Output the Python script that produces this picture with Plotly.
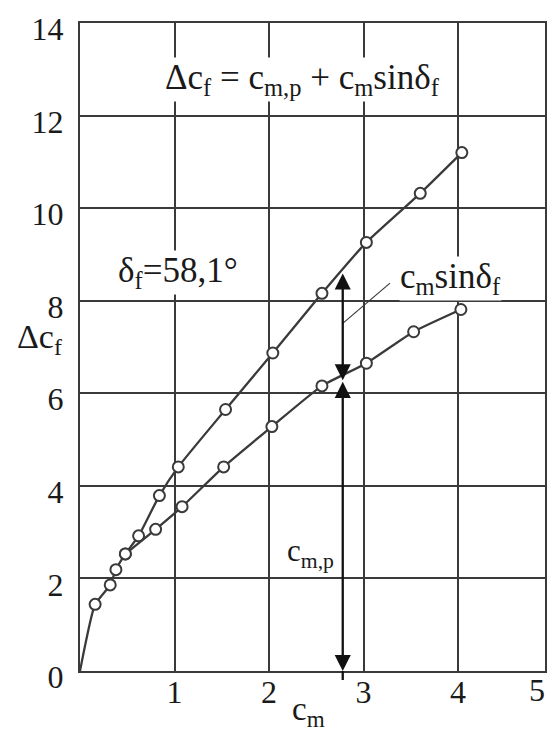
import plotly.graph_objects as go

# ---- data ----
upper_cm = [0, 0.16, 0.32, 0.38, 0.48, 0.62, 0.84, 1.04, 1.54, 2.04, 2.56, 3.03, 3.60, 4.04]
upper_dcf = [0, 1.44, 1.86, 2.19, 2.53, 2.92, 3.79, 4.41, 5.65, 6.87, 8.16, 9.26, 10.32, 11.20]
upper_marker = [False] + [True] * 13

lower_cm = [0.48, 0.80, 1.08, 1.52, 2.03, 2.56, 3.03, 3.53, 4.03]
lower_cmp = [2.53, 3.06, 3.55, 4.41, 5.28, 6.16, 6.65, 7.33, 7.81]

x_ticks = [1, 2, 3, 4]
x_ticktext = ["1", "2", "3", "4"]
y_ticks = [0, 2, 4, 6, 8, 10, 12, 14]
y_ticktext = ["0", "2", "4", "6", "8", "10", "12", "14"]

arrow_cm = 2.78
arrow_levels = [0, 6.28, 8.62]   # 0 -> c_m,p -> Δc_f

X_RANGE = [0, 4.92]
Y_RANGE = [0, 14]

FONT = "Liberation Serif"
INK = "#1a1a1a"
LINE = "#3a3a3a"

fig = go.Figure()

fig.add_trace(go.Scatter(
    x=upper_cm, y=upper_dcf, mode="lines", line=dict(color=LINE, width=2.3, shape="spline", smoothing=0.5),
    hoverinfo="skip", showlegend=False))
fig.add_trace(go.Scatter(
    x=[x for x, m in zip(upper_cm, upper_marker) if m],
    y=[y for y, m in zip(upper_dcf, upper_marker) if m],
    mode="markers", marker=dict(symbol="circle", size=11, color="white", line=dict(color=LINE, width=2)),
    showlegend=False))
fig.add_trace(go.Scatter(
    x=lower_cm, y=lower_cmp, mode="lines+markers",
    line=dict(color=LINE, width=2.3, shape="spline", smoothing=0.5),
    marker=dict(symbol="circle", size=11, color="white", line=dict(color=LINE, width=2)),
    showlegend=False))

annotations = []
# double-headed arrows
for lo, hi in [(arrow_levels[0], arrow_levels[1]), (arrow_levels[1], arrow_levels[2])]:
    annotations.append(dict(
        x=arrow_cm, y=lo, ax=arrow_cm, ay=hi, xref="x", yref="y", axref="x", ayref="y",
        showarrow=True, arrowhead=2, startarrowhead=2, arrowside="end+start",
        arrowsize=1.4, startarrowsize=1.4, arrowwidth=2.3, arrowcolor="#111", standoff=0, startstandoff=0,
        text=""))

txt = dict(font=dict(family=FONT, size=35, color=INK), showarrow=False, bgcolor="white", borderpad=0)
annotations += [
    dict(text="Δc<sub>f</sub> = c<sub>m,p</sub> + c<sub>m</sub>sinδ<sub>f</sub>",
         xref="paper", yref="paper", x=(302 - 80) / 465, y=(671 - 80) / 648, xanchor="center", yanchor="middle", **txt),
    dict(text="δ<sub>f</sub>=58,1°", xref="paper", yref="paper", x=(178 - 80) / 465, y=(671 - 272) / 648,
         xanchor="center", yanchor="middle", **txt),
    dict(text="c<sub>m</sub>sinδ<sub>f</sub>", xref="paper", yref="paper", x=(450 - 80) / 465, y=(671 - 278) / 648,
         xanchor="center", yanchor="middle", **txt),
    dict(text="c<sub>m,p</sub>", xref="paper", yref="paper", x=(310 - 80) / 465, y=(671 - 553) / 648,
         xanchor="center", yanchor="middle", font=dict(family=FONT, size=31, color=INK), showarrow=False,
         bgcolor="white", borderpad=0),
    dict(text="Δc<sub>f</sub>", xref="paper", yref="paper", x=(39 - 80) / 465, y=(671 - 339) / 648,
         xanchor="center", yanchor="middle", font=dict(family=FONT, size=34, color=INK), showarrow=False),
    dict(text="c<sub>m</sub>", xref="paper", yref="paper", x=(308 - 80) / 465, y=(671 - 711) / 648,
         xanchor="center", yanchor="middle", font=dict(family=FONT, size=33, color=INK), showarrow=False),
    dict(text="5", xref="paper", yref="paper", x=(537 - 80) / 465, y=(671 - 690) / 648,
         xanchor="center", yanchor="middle", font=dict(family=FONT, size=32, color=INK), showarrow=False),
]

shapes = [
    # extension of the c_m,p line below the axis
    dict(type="line", xref="x", yref="paper", x0=arrow_cm, x1=arrow_cm, y0=0, y1=-9 / 648,
         line=dict(color="#111", width=2.3)),
    # leader line for the c_m sinδ_f label
    dict(type="line", xref="x", yref="y", x0=3.28, y0=8.38, x1=arrow_cm, y1=7.51,
         line=dict(color=LINE, width=1.2)),
]

axis_common = dict(showgrid=True, gridcolor=LINE, gridwidth=1.5, showline=True, linecolor=LINE, linewidth=2,
                   mirror=True, zeroline=False, ticks="", automargin=False,
                   tickfont=dict(family=FONT, size=32, color=INK))

fig.update_layout(
    width=549, height=731, margin=dict(l=80, r=4, t=23, b=60),
    paper_bgcolor="white", plot_bgcolor="white",
    xaxis=dict(range=X_RANGE, tickvals=x_ticks, ticktext=x_ticktext, ticklabelstandoff=-8, **axis_common),
    yaxis=dict(range=Y_RANGE, tickvals=y_ticks, ticktext=y_ticktext, ticklabelstandoff=8, ticklabelshift=6,
               **axis_common),
    annotations=annotations, shapes=shapes, showlegend=False,
)

fig.write_html("out.html", config={"displayModeBar": False},
               post_script="document.body.style.margin='0';document.body.style.overflow='hidden';")
